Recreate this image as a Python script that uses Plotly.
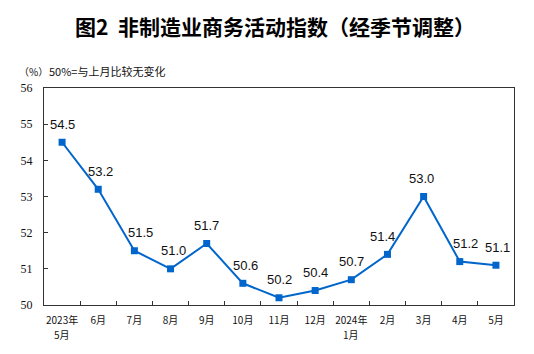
import plotly.graph_objects as go

categories = ["2023年", "6月", "7月", "8月", "9月", "10月", "11月", "12月",
              "2024年", "2月", "3月", "4月", "5月"]
# second line under the year labels
sub_labels = {0: "5月", 8: "1月"}
values = [54.5, 53.2, 51.5, 51.0, 51.7, 50.6, 50.2, 50.4, 50.7, 51.4, 53.0, 51.2, 51.1]
labels = [f"{v:.1f}" for v in values]
# small horizontal nudges for data labels (style)
label_xshift = [0, 2, 6, 3, 0, 3, 0, 0, 0, -5, -2, 6, 2]

title_text = "图2  非制造业商务活动指数（经季节调整）"
unit_text = "（%）"
note_text = "50%=与上月比较无变化"

blue = "#0066CC"
cjk = "Noto Sans CJK SC"

fig = go.Figure()
fig.add_trace(go.Scatter(
    x=list(range(len(values))), y=values, mode="lines+markers",
    line=dict(color=blue, width=2),
    marker=dict(symbol="square", size=7, color=blue),
    hoverinfo="skip", showlegend=False,
))

for i, (v, t) in enumerate(zip(values, labels)):
    fig.add_annotation(x=i, y=v, text=t, showarrow=False, yshift=18,
                       xshift=label_xshift[i],
                       font=dict(family="Liberation Sans", size=13, color="#111"))

for i, t in sub_labels.items():
    fig.add_annotation(x=i, xref="x", yref="paper", y=0, yshift=-29,
                       text=t, showarrow=False, xanchor="center", yanchor="middle",
                       font=dict(family=cjk, size=10, color="#111"))

fig.update_layout(
    width=534, height=354,
    margin=dict(l=44, r=20, t=88, b=49),
    paper_bgcolor="white", plot_bgcolor="white",
    xaxis=dict(
        range=[-0.5, len(values) - 0.5],
        tickmode="array", tickvals=list(range(len(values))), ticktext=categories,
        showgrid=False, zeroline=False,
        showline=True, linecolor="#333", linewidth=1, mirror=True,
        ticks="", ticklabelstandoff=6,
        tickfont=dict(family=cjk, size=10, color="#111"),
        minor=dict(tickvals=[i + 0.5 for i in range(len(values) - 1)],
                   ticks="inside", ticklen=4, tickcolor="#333"),
    ),
    yaxis=dict(
        range=[50, 56], dtick=1, tick0=50,
        showgrid=False, zeroline=False,
        showline=True, linecolor="#333", linewidth=1, mirror=True,
        ticks="inside", ticklen=4, tickcolor="#333",
        ticklabelstandoff=8,
        tickfont=dict(family="Liberation Serif", size=12, color="#111"),
    ),
)

fig.add_annotation(xref="paper", yref="paper", x=0.5, y=1, yshift=88 - 26,
                   xshift=-4,
                   text=f"<b>{title_text}</b>", showarrow=False,
                   xanchor="center", yanchor="middle",
                   font=dict(family=cjk, size=21, color="#000"))
fig.add_annotation(xref="paper", yref="paper", x=0, y=1, xshift=-27, yshift=17,
                   text=unit_text, showarrow=False, xanchor="left", yanchor="middle",
                   font=dict(family=cjk, size=10, color="#111"))
fig.add_annotation(xref="paper", yref="paper", x=0, y=1, xshift=3, yshift=17,
                   text=note_text, showarrow=False, xanchor="left", yanchor="middle",
                   font=dict(family=cjk, size=11, color="#111"))

fig.write_html("out.html")
